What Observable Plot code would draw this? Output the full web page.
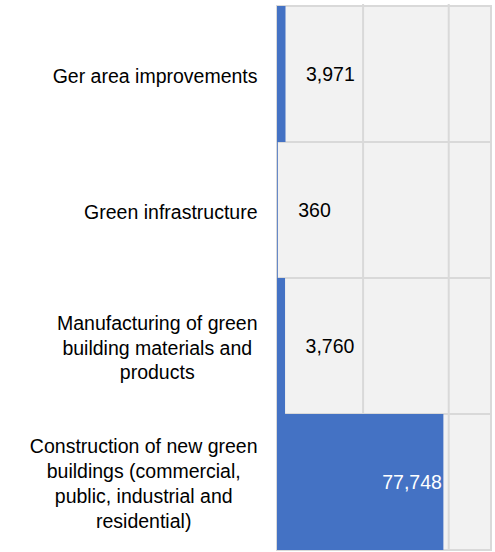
<!DOCTYPE html>
<html>
<head>
<meta charset="utf-8">
<script src="https://cdn.jsdelivr.net/npm/d3@7"></script>
<script src="https://cdn.jsdelivr.net/npm/@observablehq/plot@0.6"></script>
<style>
  html, body { margin: 0; padding: 0; background: #ffffff; }
</style>
</head>
<body>
<div id="chart"></div>
<script>
const categories = [
  "Ger area improvements",
  "Green infrastructure",
  "Manufacturing of green\nbuilding materials and\nproducts",
  "Construction of new green\nbuildings (commercial,\npublic, industrial and\nresidential)"
];
const values = [3971, 360, 3760, 77748];
const gridTicks = [40000, 80000];
const xDomain = [0, 100000];

const data = categories.map((c, i) => ({category: c, value: values[i]}));

const FONT = "'Liberation Sans', Arial, sans-serif";
const fontSize = 19.5;
const ctx = document.createElement("canvas").getContext("2d");
ctx.font = `${fontSize}px ${FONT}`;
const blockWidth = s => Math.max(...s.split("\n").map(l => ctx.measureText(l).width));
const labelGap = 20;
const fmt = d3.format(",");

const chart = Plot.plot({
  width: 495,
  height: 552,
  marginLeft: 277,
  marginRight: 4,
  marginTop: 4,
  marginBottom: 1,
  style: {fontFamily: FONT, fontSize: fontSize + "px", background: "#ffffff", color: "#000"},
  x: {domain: xDomain, axis: null},
  y: {domain: categories, axis: null, padding: 0},
  marks: [
    Plot.barX(data, {y: "category", x1: xDomain[0], x2: xDomain[1], fill: "#f2f2f2", stroke: "#d9d9d9", strokeWidth: 2}),
    Plot.ruleX(gridTicks, {stroke: "#d9d9d9", strokeWidth: 2}),
    Plot.barX(data, {y: "category", x: "value", fill: "#4472c4"}),
    Plot.text(data.filter(d => d.value < gridTicks[0]), {
      y: "category", x: "value", text: d => fmt(d.value),
      textAnchor: "start", dx: 20, fill: "#000"
    }),
    Plot.text(data.filter(d => d.value >= gridTicks[0]), {
      y: "category", x: "value", text: d => fmt(d.value),
      textAnchor: "end", dx: -2, fill: "#ffffff"
    }),
    ...categories.map(c => Plot.text([c], {
      y: d => d, text: d => d, frameAnchor: "left",
      textAnchor: "middle", lineAnchor: "middle", lineHeight: 1.28,
      dx: -(labelGap + blockWidth(c) / 2), fill: "#000"
    }))
  ]
});
document.getElementById("chart").appendChild(chart);
</script>
</body>
</html>
